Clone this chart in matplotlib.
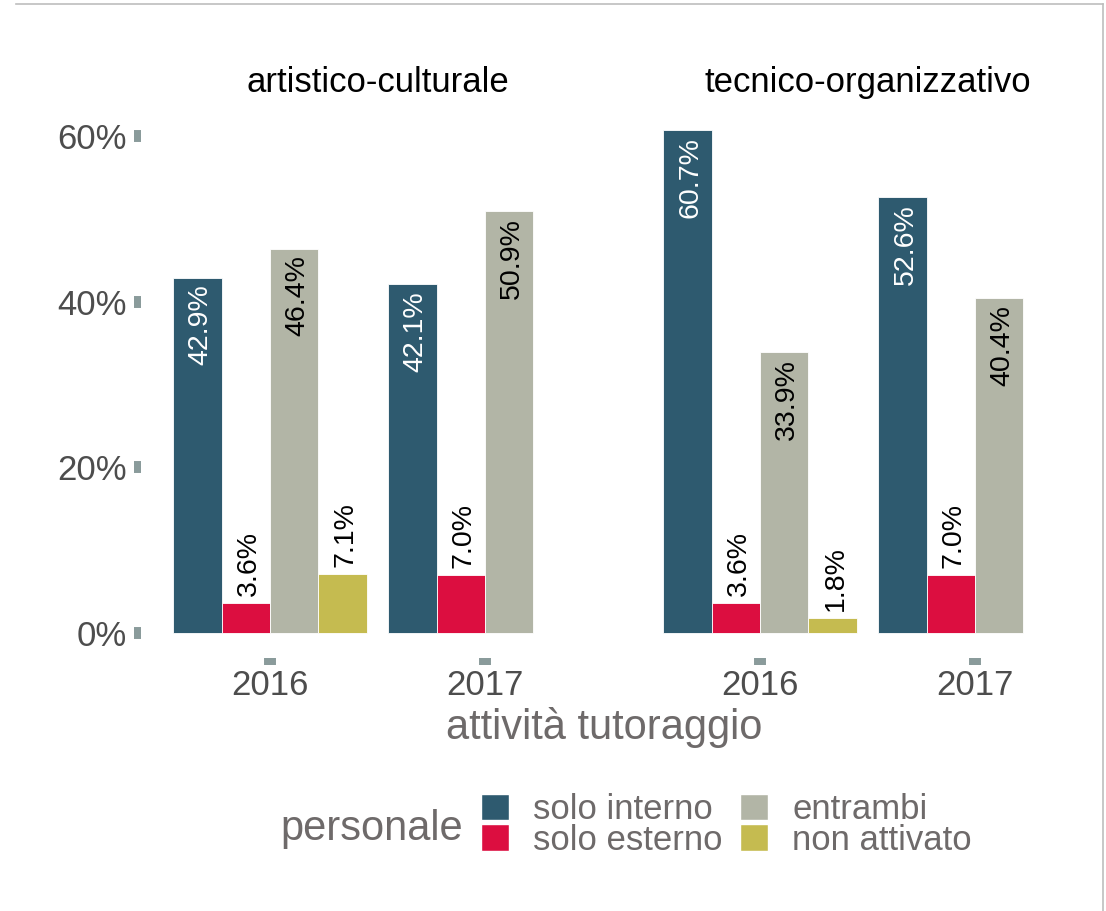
import numpy as np
import matplotlib
matplotlib.use('Agg')
import matplotlib.pyplot as plt
from matplotlib.patches import Patch
from matplotlib.lines import Line2D

plt.rcParams['font.family'] = ['Liberation Sans', 'DejaVu Sans']

# dati
facets = ['artistico-culturale', 'tecnico-organizzativo']
years = ['2016', '2017']
groups = ['solo interno', 'solo esterno', 'entrambi', 'non attivato']
colors = ['#2E5A6F', '#DC0E40', '#B2B5A6', '#C5BB50']
label_colors = ['white', 'black', 'black', 'black']

# percentuali: anno -> gruppo (None = non presente)
artistico = [[42.9, 3.6, 46.4, 7.1], [42.1, 7.0, 50.9, None]]
tecnico = [[60.7, 3.6, 33.9, 1.8], [52.6, 7.0, 40.4, None]]
values = [artistico, tecnico]

W, H = 1106, 911
tick_col = '#8A9B9B'
text_grey = '#6E6A6A'

fig = plt.figure(figsize=(W / 100, H / 100), dpi=100)

vmax = max(v for f in values for y in f for v in y if v is not None)
ylim = (-0.05 * vmax, 1.05 * vmax)

dodge = 0.9
n = len(groups)
bw = dodge / n
xs = np.arange(len(years)) + 1

lefts = [141, 631]
for k, facet in enumerate(facets):
    ax = fig.add_axes([lefts[k] / W, (H - 658) / H, 473 / W, 553 / H])
    for gi, g in enumerate(groups):
        for yi in range(len(years)):
            v = values[k][yi][gi]
            if v is None:
                continue
            x = xs[yi] + dodge * ((gi + 0.5) / n - 0.5)
            ax.bar(x, v, width=bw, color=colors[gi], edgecolor='white', linewidth=0.6)
            lab = f'{v:.1f}%'
            if v > 10:
                ax.annotate(lab, (x, v), xytext=(0, -5), textcoords='offset points',
                            rotation=90, ha='right', va='center_baseline',
                            rotation_mode='anchor', fontsize=20.5, color=label_colors[gi])
            else:
                ax.annotate(lab, (x, v), xytext=(0, 5), textcoords='offset points',
                            rotation=90, ha='left', va='center_baseline',
                            rotation_mode='anchor', fontsize=20.5, color='black')
    ax.set_xlim(0.4, 2.6)
    ax.set_ylim(*ylim)
    for s in ax.spines.values():
        s.set_visible(False)
    ax.set_facecolor('none')
    ax.set_xticks(xs)
    ax.set_xticklabels(years)
    ax.tick_params(axis='x', length=5, width=8.6, color=tick_col, pad=3,
                   labelsize=25, labelcolor='#4D4D4D')
    if k == 0:
        ax.set_yticks([0, 20, 40, 60])
        ax.set_yticklabels([f'{t}%' for t in [0, 20, 40, 60]])
        ax.tick_params(axis='y', length=5, width=8.6, color=tick_col, pad=5,
                       labelsize=25, labelcolor='#4D4D4D')
    else:
        ax.set_yticks([])
    ax.set_title(facet, fontsize=25, pad=9.4, color='black')

fig.text(604 / W, 1 - 728 / H, 'attività tutoraggio', ha='center', va='center',
         fontsize=30, color=text_grey)

# legenda
fig.text(280 / W, 1 - 840 / H, 'personale', ha='left', va='baseline',
         fontsize=30, color=text_grey)
handles = [Patch(facecolor=c, edgecolor='white', linewidth=1) for c in colors]
fig.legend(handles, groups, ncol=2, loc='upper left',
           bbox_to_anchor=(481 / W, 1 - 793 / H), frameon=False, fontsize=25,
           handlelength=0.81, handleheight=0.81, handletextpad=0.69,
           columnspacing=0.5, labelspacing=-0.07, borderpad=0, borderaxespad=0,
           labelcolor=text_grey)

# bordo grigio
fig.add_artist(Line2D([16 / W, 1103 / W], [1 - 4 / H, 1 - 4 / H], color='#BDBDBD', lw=1.2))
fig.add_artist(Line2D([1103 / W, 1103 / W], [1 - 4 / H, 0], color='#BDBDBD', lw=1.2))

fig.savefig('out.png', dpi=100)
